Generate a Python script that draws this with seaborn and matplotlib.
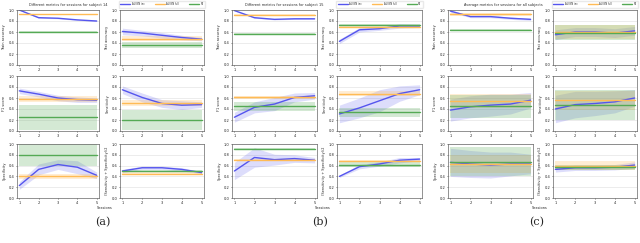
import numpy as np
import matplotlib
matplotlib.use("Agg")
import matplotlib.pyplot as plt
import seaborn as sns

# x axis
sessions = [1, 2, 3, 4, 5]
metric_names = ["Train accuracy", "Test accuracy", "F1 score", "Sensitivity",
                "Specificity", "(Sensitivity + Specificity)/2"]

# panel (a) : subject 14  (order of rows follows metric_names)
a_inc = [[1.00, 0.86, 0.85, 0.82, 0.80],
         [0.61, 0.58, 0.54, 0.50, 0.47],
         [0.73, 0.67, 0.60, 0.57, 0.56],
         [0.75, 0.61, 0.50, 0.47, 0.48],
         [0.23, 0.53, 0.62, 0.57, 0.42],
         [0.50, 0.56, 0.56, 0.53, 0.47]]
a_inc_err = [[0.005, 0.01, 0.01, 0.01, 0.01],
             [0.06, 0.05, 0.05, 0.04, 0.03],
             [0.05, 0.05, 0.05, 0.05, 0.04],
             [0.07, 0.08, 0.07, 0.08, 0.05],
             [0.07, 0.10, 0.09, 0.12, 0.06],
             [0.03, 0.03, 0.03, 0.03, 0.02]]
a_full = [0.92, 0.48, 0.58, 0.51, 0.40, 0.45]
a_full_err = [0.015, 0.04, 0.05, 0.06, 0.05, 0.03]
a_rf = [0.60, 0.36, 0.25, 0.20, 0.80, 0.50]
a_rf_err = [0.015, 0.06, 0.23, 0.18, 0.20, 0.02]

# panel (b) : subject 15
b_inc = [[0.99, 0.86, 0.83, 0.84, 0.84],
         [0.43, 0.64, 0.66, 0.71, 0.71],
         [0.25, 0.43, 0.49, 0.61, 0.64],
         [0.31, 0.42, 0.55, 0.68, 0.75],
         [0.50, 0.75, 0.71, 0.73, 0.70],
         [0.40, 0.58, 0.63, 0.70, 0.72]]
b_inc_err = [[0.005, 0.01, 0.01, 0.01, 0.01],
             [0.04, 0.04, 0.03, 0.04, 0.03],
             [0.09, 0.10, 0.12, 0.08, 0.06],
             [0.16, 0.18, 0.20, 0.14, 0.09],
             [0.16, 0.18, 0.10, 0.07, 0.05],
             [0.02, 0.04, 0.04, 0.05, 0.03]]
b_full = [0.91, 0.69, 0.61, 0.68, 0.71, 0.68]
b_full_err = [0.01, 0.02, 0.03, 0.05, 0.02, 0.02]
b_rf = [0.57, 0.72, 0.45, 0.34, 0.91, 0.62]
b_rf_err = [0.02, 0.02, 0.08, 0.08, 0.02, 0.04]

# panel (c) : average over all subjects
c_inc = [[0.98, 0.88, 0.88, 0.85, 0.83],
         [0.55, 0.60, 0.60, 0.58, 0.62],
         [0.38, 0.44, 0.47, 0.49, 0.56],
         [0.40, 0.48, 0.50, 0.53, 0.60],
         [0.66, 0.63, 0.61, 0.63, 0.63],
         [0.53, 0.56, 0.56, 0.57, 0.61]]
c_inc_err = [[0.02, 0.02, 0.02, 0.02, 0.02],
             [0.09, 0.08, 0.08, 0.08, 0.08],
             [0.20, 0.20, 0.20, 0.18, 0.14],
             [0.25, 0.24, 0.22, 0.20, 0.15],
             [0.26, 0.25, 0.24, 0.22, 0.18],
             [0.05, 0.05, 0.05, 0.05, 0.06]]
c_full = [0.92, 0.60, 0.55, 0.56, 0.63, 0.60]
c_full_err = [0.03, 0.12, 0.13, 0.17, 0.16, 0.08]
c_rf = [0.63, 0.59, 0.45, 0.47, 0.67, 0.57]
c_rf_err = [0.02, 0.13, 0.21, 0.27, 0.27, 0.05]

titles = ["Different metrics for sessions for subject 14",
          "Different metrics for sessions for subject 15",
          "Average metrics for sessions for all subjects"]
panel_letters = ["(a)", "(b)", "(c)"]

col_inc = "#5555ee"
col_full = "#ffbb55"
col_rf = "#55aa55"

sns.set_style("whitegrid")
plt.rcParams["axes.edgecolor"] = "#666666"
plt.rcParams["grid.color"] = "#dddddd"

W, H = 640, 243
fig = plt.figure(figsize=(6.4, 2.43), dpi=100)


def px_axes(x0, x1, y0, y1):
    return fig.add_axes([x0 / W, 1 - y1 / H, (x1 - x0) / W, (y1 - y0) / H])


panel_cols = [[(17, 99), (120, 204)],
              [(232, 317), (337, 422)],
              [(448, 533), (553, 637)]]
rows_y = [(10, 65), (76, 131), (144, 198)]
title_x = [68, 284, 503]
label_x = [105, 323, 540]
letter_x = [103, 320, 537]

panels = [(a_inc, a_inc_err, a_full, a_full_err, a_rf, a_rf_err),
          (b_inc, b_inc_err, b_full, b_full_err, b_rf, b_rf_err),
          (c_inc, c_inc_err, c_full, c_full_err, c_rf, c_rf_err)]

x = np.array(sessions)
for p, (inc, inc_err, full, full_err, rf, rf_err) in enumerate(panels):
    for m in range(6):
        r, c = divmod(m, 2)
        ax = px_axes(panel_cols[p][c][0], panel_cols[p][c][1], rows_y[r][0], rows_y[r][1])
        y_inc = np.array(inc[m])
        e_inc = np.array(inc_err[m])
        y_full = np.full(5, full[m])
        y_rf = np.full(5, rf[m])
        sns.lineplot(x=x, y=y_inc, ax=ax, color=col_inc, lw=1.0, label="AU-NN inc")
        ax.fill_between(x, y_inc - e_inc, y_inc + e_inc, color=col_inc, alpha=0.2, lw=0)
        sns.lineplot(x=x, y=y_full, ax=ax, color=col_full, lw=1.0, label="AU-NN full")
        ax.fill_between(x, y_full - full_err[m], y_full + full_err[m], color=col_full, alpha=0.25, lw=0)
        sns.lineplot(x=x, y=y_rf, ax=ax, color=col_rf, lw=1.0, label="RF")
        ax.fill_between(x, y_rf - rf_err[m], y_rf + rf_err[m], color=col_rf, alpha=0.25, lw=0)

        ax.set_xlim(0.88, 5.12)
        ax.set_ylim(0, 1)
        ax.set_xticks(sessions)
        ax.set_yticks([0, 0.2, 0.4, 0.6, 0.8, 1.0])
        ax.grid(axis="x", visible=False)
        ax.grid(axis="y", lw=0.4)
        ax.tick_params(labelsize=2.6, pad=1, length=1, width=0.4, left=True, bottom=True)
        for s in ax.spines.values():
            s.set_linewidth(0.5)
        ax.set_ylabel(metric_names[m], fontsize=2.5, labelpad=1.5)
        ax.set_xlabel("")
        if m == 1:
            ax.legend(loc="lower center", bbox_to_anchor=(0.5, 1.02), ncol=3, fontsize=1.8,
                      handlelength=4, handletextpad=0.6, columnspacing=4, borderpad=0.6,
                      frameon=True, edgecolor="#e4e4e4", fancybox=True)
        else:
            ax.get_legend().remove()

    fig.text(title_x[p] / W, 1 - 5 / H, titles[p], fontsize=2.5, ha="center", va="center")
    fig.text(label_x[p] / W, 1 - 208 / H, "Sessions", fontsize=2.6, ha="center", va="center")
    fig.text(letter_x[p] / W, 1 - 222 / H, panel_letters[p], fontsize=8,
             family="DejaVu Serif", ha="center", va="center")

fig.savefig("out.png", dpi=100)
